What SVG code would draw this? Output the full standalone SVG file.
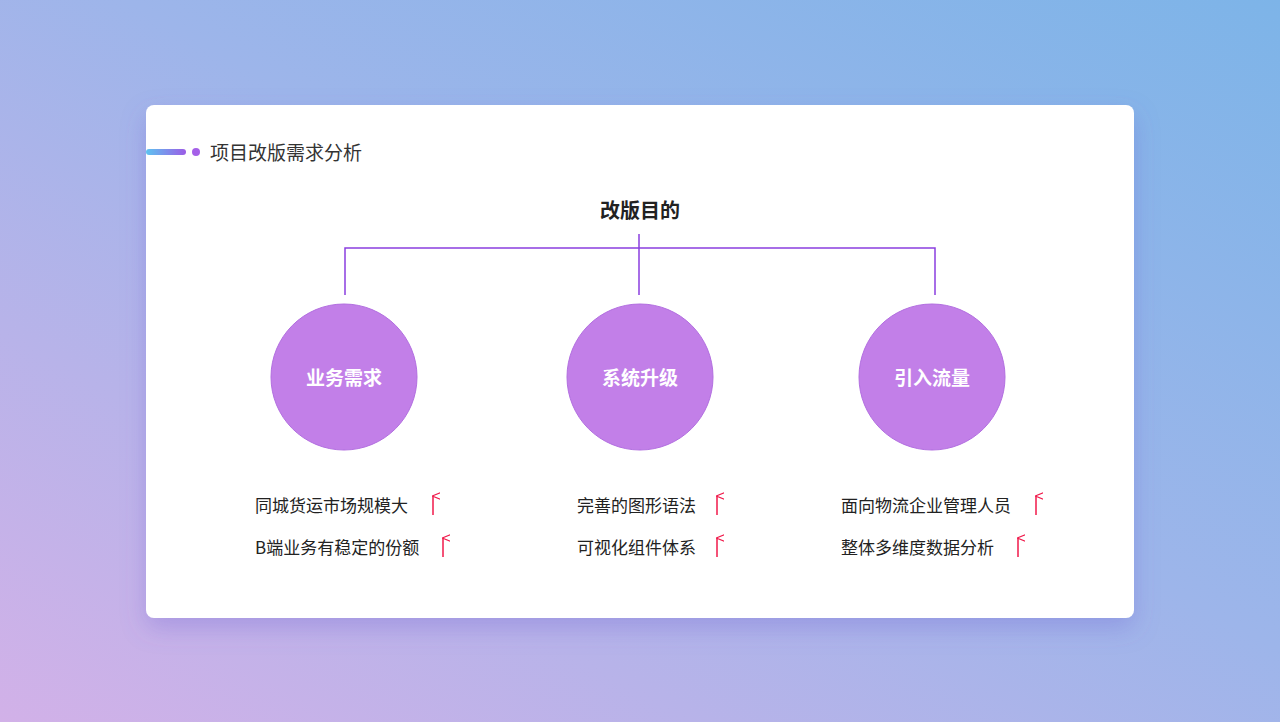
<svg xmlns="http://www.w3.org/2000/svg" width="1280" height="722" viewBox="0 0 1280 722">
<defs>
<linearGradient id="bg" x1="0" y1="1" x2="1" y2="0"><stop offset="0" stop-color="#d2b1e8"/><stop offset="0.55" stop-color="#9db5ea"/><stop offset="1" stop-color="#7db4e8"/></linearGradient>
<linearGradient id="bar" x1="0" x2="1"><stop offset="0" stop-color="#5ec3f0"/><stop offset="1" stop-color="#9b5ce6"/></linearGradient>
<filter id="sh" x="-10%" y="-10%" width="120%" height="130%"><feDropShadow dx="0" dy="10" stdDeviation="12" flood-color="#6a5ad0" flood-opacity="0.3"/></filter>
<marker id="ar" viewBox="0 0 10 10" refX="5" refY="1" markerWidth="8" markerHeight="8" markerUnits="userSpaceOnUse" orient="auto-start-reverse"><path d="M1 10 L5 0 L9 10" fill="none" stroke="#f0194a" stroke-width="1.5"/></marker>
</defs>
<style>
text{font-family:"Noto Sans CJK SC","Noto Sans",sans-serif}
.c{fill:#c27fe8;stroke:#b26ee0;stroke-width:1}
.ct{fill:#fff;font-size:19px;font-weight:bold;text-anchor:middle}
.it{fill:#222;font-size:17px}
.ln{stroke:#8a3fe0;stroke-width:1.5;fill:none}
.up{stroke:#f0194a;stroke-width:1.5;marker-end:url(#ar)}
</style>
<rect width="1280" height="722" fill="url(#bg)"/>
<rect x="146" y="105" width="988" height="513" rx="8" fill="#fff" filter="url(#sh)"/>
<g id="header">
<rect x="146" y="149" width="40" height="6" rx="3" fill="url(#bar)"/>
<circle cx="196" cy="152" r="4" fill="#a560e8"/>
<text x="210" y="160" font-size="19" fill="#333">项目改版需求分析</text>
</g>
<g id="root"><text x="640" y="218" font-size="20" font-weight="bold" fill="#222" text-anchor="middle">改版目的</text></g>
<g id="connectors">
<path class="ln" d="M639 234V295M345 295V248H935V295"/>
</g>
<g id="n1"><circle class="c" cx="344" cy="377" r="73"/><text class="ct" x="344" y="385">业务需求</text>
<text class="it" x="255" y="512">同城货运市场规模大</text><line class="up" x1="433" y1="515" x2="433" y2="496"/>
<text class="it" x="255" y="554">B端业务有稳定的份额</text><line class="up" x1="443" y1="557" x2="443" y2="538"/></g>
<g id="n2"><circle class="c" cx="640" cy="377" r="73"/><text class="ct" x="640" y="385">系统升级</text>
<text class="it" x="577" y="512">完善的图形语法</text><line class="up" x1="717" y1="515" x2="717" y2="496"/>
<text class="it" x="577" y="554">可视化组件体系</text><line class="up" x1="717" y1="557" x2="717" y2="538"/></g>
<g id="n3"><circle class="c" cx="932" cy="377" r="73"/><text class="ct" x="932" y="385">引入流量</text>
<text class="it" x="841" y="512">面向物流企业管理人员</text><line class="up" x1="1036" y1="515" x2="1036" y2="496"/>
<text class="it" x="841" y="554">整体多维度数据分析</text><line class="up" x1="1018" y1="557" x2="1018" y2="538"/></g>
</svg>
